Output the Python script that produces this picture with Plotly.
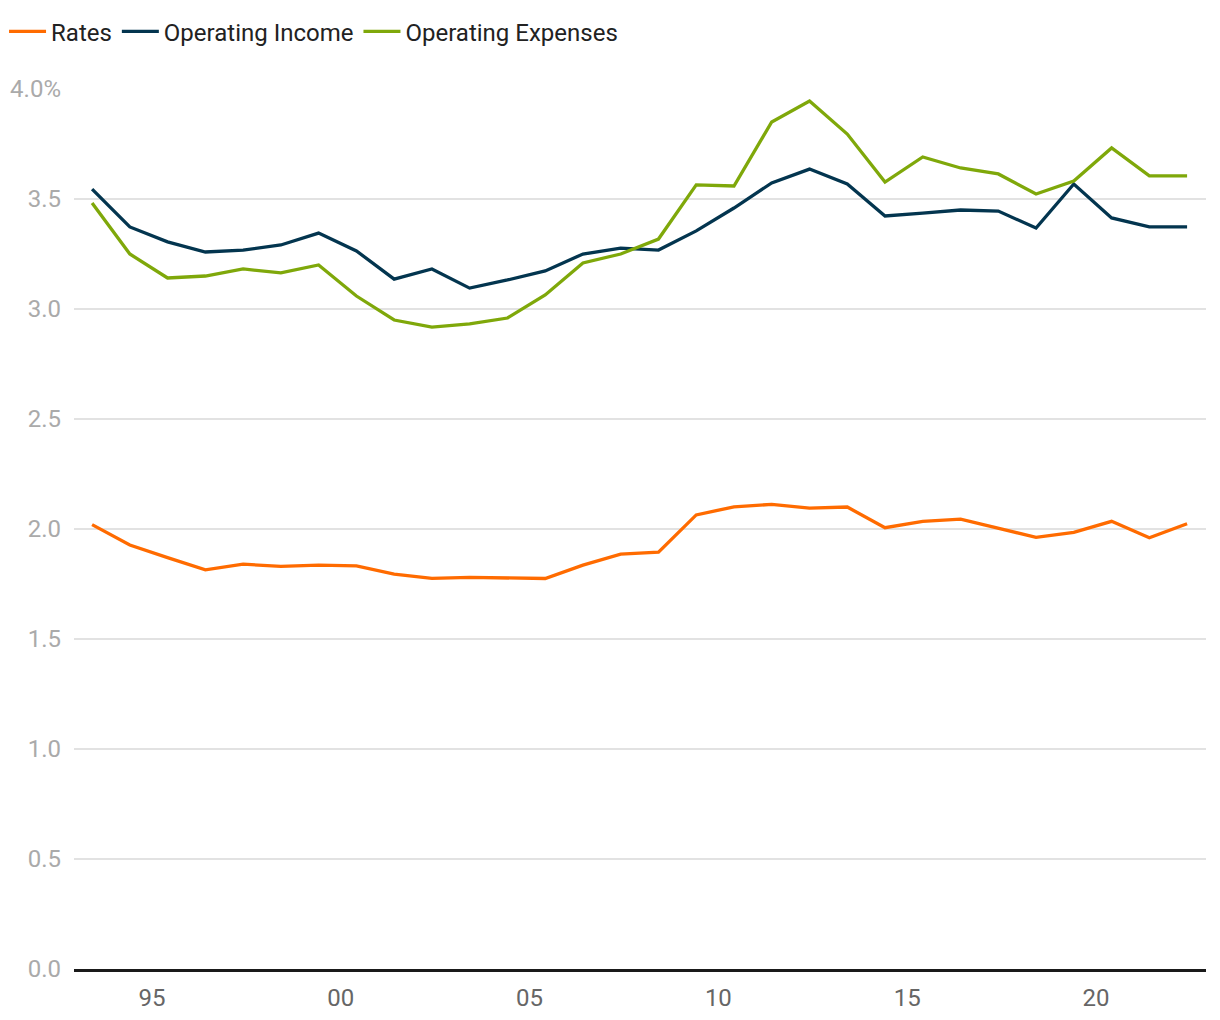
import plotly.graph_objects as go

years = list(range(1993, 2023))
rates = [2.02, 1.927, 1.87, 1.814, 1.84, 1.83, 1.836, 1.832, 1.795, 1.776, 1.78, 1.777, 1.775,
         1.836, 1.886, 1.895, 2.064, 2.101, 2.112, 2.095, 2.10, 2.006, 2.035, 2.045, 2.003,
         1.962, 1.985, 2.035, 1.96, 2.024]
op_income = [3.545, 3.373, 3.305, 3.259, 3.268, 3.291, 3.345, 3.264, 3.136, 3.182, 3.095, 3.132,
             3.173, 3.25, 3.277, 3.268, 3.355, 3.459, 3.573, 3.636, 3.568, 3.423, 3.436, 3.45,
             3.445, 3.368, 3.568, 3.414, 3.373, 3.373]
op_expenses = [3.482, 3.25, 3.141, 3.15, 3.182, 3.164, 3.2, 3.059, 2.95, 2.918, 2.932, 2.959,
               3.064, 3.209, 3.25, 3.318, 3.564, 3.559, 3.85, 3.945, 3.795, 3.577, 3.691, 3.641,
               3.614, 3.523, 3.582, 3.732, 3.605, 3.605]

tick_years = [1995, 2000, 2005, 2010, 2015, 2020]
tick_labels = ["95", "00", "05", "10", "15", "20"]
y_ticks = [0, 0.5, 1.0, 1.5, 2.0, 2.5, 3.0, 3.5, 4.0]
y_labels = ["0.0", "0.5", "1.0", "1.5", "2.0", "2.5", "3.0", "3.5", "4.0%"]

x = [f"{y}-06-01" for y in years]

series = [
    ("Rates", rates, "#FF6B00"),
    ("Operating Income", op_income, "#03354F"),
    ("Operating Expenses", op_expenses, "#7FA80A"),
]

fig = go.Figure()
for name, vals, color in series:
    fig.add_trace(go.Scatter(x=x, y=vals, name=name, mode="lines",
                             line=dict(color=color, width=3.3)))

fig.update_layout(
    width=1220, height=1020,
    margin=dict(l=66, r=22, t=81, b=59, autoexpand=False),
    paper_bgcolor="white", plot_bgcolor="white",
    font=dict(family="Roboto", size=24, color="#222"),
    showlegend=True,
    legend=dict(orientation="h", x=-0.0618, xanchor="left", y=1.065, yanchor="middle",
                font=dict(size=24, color="#222"), itemwidth=37, tracegroupgap=0,
                bgcolor="rgba(0,0,0,0)"),
    xaxis=dict(type="date", range=["1992-12-08", "2022-12-01"],
               tickvals=[f"{y}-01-01" for y in tick_years], ticktext=tick_labels,
               showgrid=False, showline=True, linecolor="#1a1a1a", linewidth=3,
               ticks="", tickfont=dict(size=24, color="#666"), zeroline=False,
               automargin=False, ticklabelstandoff=5),
    yaxis=dict(range=[0, 4.0], tickvals=y_ticks, ticktext=y_labels,
               showgrid=True, gridcolor="#e2e2e2", gridwidth=2, zeroline=False,
               ticks="", tickfont=dict(size=24, color="#aaa"), ticklabelstandoff=12,
               automargin=False),
)

fig.write_html("out.html")
